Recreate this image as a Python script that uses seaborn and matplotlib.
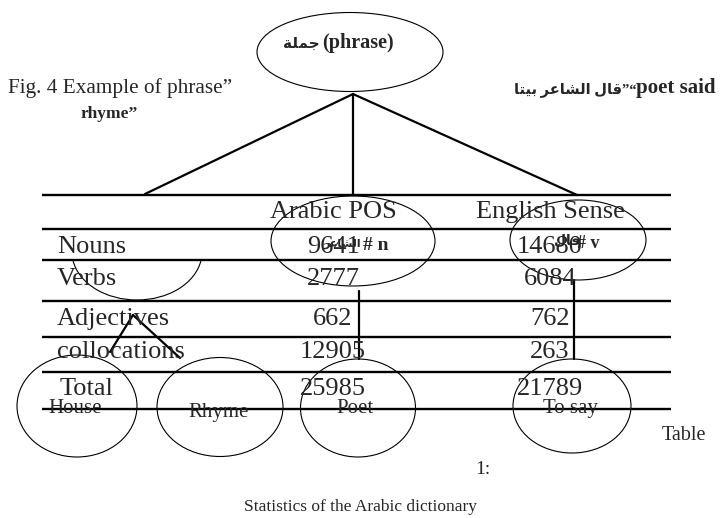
import matplotlib.pyplot as plt
from matplotlib.patches import Ellipse, Arc
import seaborn as sns
import pandas as pd

# table values
row_labels = ['Nouns', 'Verbs', 'Adjectives', 'collocations', 'Total']
arabic_pos = [9641, 2777, 662, 12905, 25985]
english_sense = [14680, 6084, 762, 263, 21789]
col_headers = ['Arabic POS', 'English Sense']
leaf_words = ['House', 'Rhyme', 'Poet', 'To say']

# arabic in visual order with presentation forms (matplotlib does no shaping)
ar_phrase = '\ufe94\ufee0\ufee4\ufe9f'                       # jumla
ar_poet = '\ufeae\ufecb\ufe8e\ufeb8\ufedf\ufe8d'               # al-sha'ir
ar_say = '\ufedd\ufe8e\ufed7'                                 # qala
ar_sentence = '\ufe8e\ufe98\ufef4\ufe91 ' + ar_poet + ' ' + ar_say

# layout in pixels of the page
rule_y = [195, 229, 260, 301, 337, 372, 409]
row_base = [253, 285, 325, 358, 395]
header_base = 218
col_x = [333, 550]
tree_edges = pd.DataFrame({
    'edge': [0, 0, 1, 1, 2, 2, 3, 3, 4, 4, 5, 5, 6, 6],
    'x': [353, 145, 353, 353, 353, 577, 133, 110, 133, 180, 359, 359, 574, 574],
    'y': [94, 194, 94, 194, 94, 195, 315, 352, 315, 358, 291, 359, 281, 359],
})
ellipses = [(350, 52, 186, 79), (353, 241, 164, 90), (578, 240, 136, 80),
            (77, 406, 120, 102), (220, 407, 126, 99), (358, 408, 115, 98),
            (572, 406, 118, 94)]
leaf_x = [75, 219, 355, 570]
leaf_base = [413, 417, 413, 413]

sns.set_style('white')
plt.rcParams['font.family'] = ['Liberation Serif', 'DejaVu Sans']
fams = ['Liberation Serif', 'DejaVu Sans']

fig = plt.figure(figsize=(7.23, 5.18), dpi=100)
ax = fig.add_axes([0, 0, 1, 1])

sns.lineplot(data=tree_edges, x='x', y='y', units='edge', estimator=None,
             sort=False, color='black', lw=1.6, ax=ax, legend=False)
ax.hlines(rule_y, 42, 671, color='black', lw=1.7)

for cx, cy, w, h in ellipses:
    ax.add_patch(Ellipse((cx, cy), w, h, fill=False, ec='black', lw=0.8))
ax.add_patch(Arc((137, 252), 130, 96, theta1=8, theta2=172, ec='black', lw=0.8))

ax.set_xlim(0, 723)
ax.set_ylim(518, 0)
ax.axis('off')

# table text
for name, x in zip(col_headers, col_x):
    ax.text(x, header_base, name, fontsize=19, ha='center', va='baseline')
for i, lab in enumerate(row_labels):
    ax.text(57 if lab != 'Total' else 60, row_base[i], lab, fontsize=19, va='baseline')
    ax.text(col_x[0], row_base[i], str(arabic_pos[i]), fontsize=19, ha='center', va='baseline')
    ax.text(col_x[1], row_base[i], str(english_sense[i]), fontsize=19, ha='center', va='baseline')

# tree labels
ax.text(283, 48, ar_phrase, fontsize=11, weight='bold', family=fams, va='baseline')
ax.text(322, 48, '(phrase)', fontsize=14.5, weight='bold', va='baseline')
ax.text(342, 247, ar_poet, fontsize=8, weight='bold', family=fams, ha='center', va='baseline')
ax.text(363, 250, '# n', fontsize=14, weight='bold', va='baseline')
ax.text(567, 245, ar_say, fontsize=10, weight='bold', family=fams, ha='center', va='baseline')
ax.text(577, 248, '# v', fontsize=13, weight='bold', va='baseline')
for w, x, b in zip(leaf_words, leaf_x, leaf_base):
    ax.text(x, b, w, fontsize=15, ha='center', va='baseline')

# captions
ax.text(8, 93, 'Fig. 4 Example of phrase\u201d', fontsize=15.3, va='baseline')
ax.text(81, 118, 'rhyme\u201d', fontsize=12.5, weight='bold', va='baseline')
poet = ax.text(716, 93, 'poet said', fontsize=15, weight='bold', ha='right', va='baseline')
fig.canvas.draw()
left_px = poet.get_window_extent().x0
left_x = ax.transData.inverted().transform((left_px, 0))[0]
ax.text(left_x, 93, ar_sentence + '\u201d\u201c', fontsize=10.5, weight='bold',
        family=fams, ha='right', va='baseline')
ax.text(662, 440, 'Table', fontsize=14.5, va='baseline')
ax.text(475, 474, '1:', fontsize=14, va='baseline')
ax.text(360, 511, 'Statistics of the Arabic dictionary', fontsize=12.5, ha='center', va='baseline')

fig.savefig('out.png', dpi=100)
